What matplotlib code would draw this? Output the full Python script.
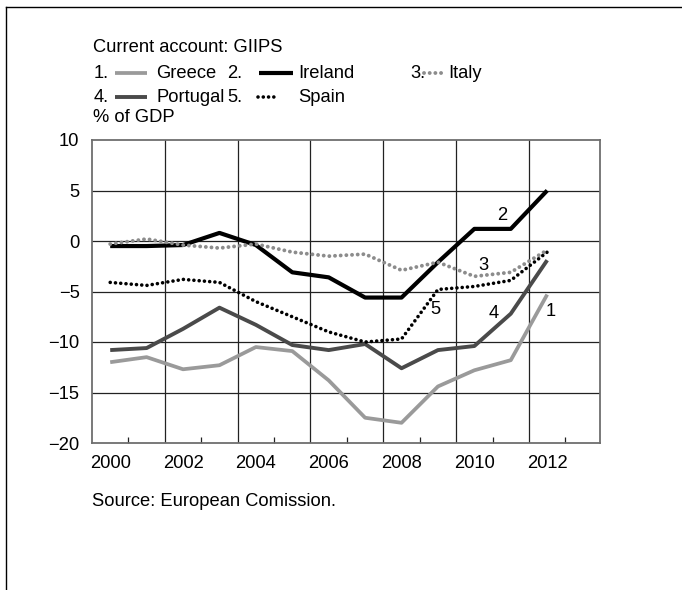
import numpy as np
import matplotlib.pyplot as plt
from matplotlib.lines import Line2D

plt.rcParams['font.family'] = ['Liberation Sans', 'DejaVu Sans']
plt.rcParams['font.size'] = 13.2

# current account balance, % of GDP
years = list(range(2000, 2013))
greece = [-12.0, -11.5, -12.7, -12.3, -10.5, -10.9, -13.8, -17.5, -18.0, -14.4, -12.8, -11.8, -5.3]
ireland = [-0.5, -0.5, -0.4, 0.8, -0.4, -3.1, -3.6, -5.6, -5.6, -2.1, 1.2, 1.2, 5.0]
italy = [-0.3, 0.2, -0.4, -0.7, -0.3, -1.1, -1.5, -1.3, -2.9, -2.1, -3.5, -3.1, -0.9]
portugal = [-10.8, -10.6, -8.7, -6.6, -8.3, -10.3, -10.8, -10.2, -12.6, -10.8, -10.4, -7.2, -1.9]
spain = [-4.1, -4.4, -3.8, -4.1, -6.0, -7.5, -9.0, -10.0, -9.7, -4.8, -4.5, -3.9, -1.1]

W, H = 682, 590
fig = plt.figure(figsize=(W / 100, H / 100), dpi=100)
ax = fig.add_axes([92 / W, 1 - 443 / H, 508 / W, 303 / H])

dot = (0, (0.01, 1.45))
styles = {
    'greece': dict(color='#9a9a9a', lw=2.7, solid_capstyle='butt'),
    'ireland': dict(color='black', lw=3.0, solid_capstyle='butt'),
    'italy': dict(color='#8c8c8c', lw=2.8, ls=dot, dash_capstyle='round'),
    'portugal': dict(color='#4a4a4a', lw=2.8, solid_capstyle='butt'),
    'spain': dict(color='black', lw=2.6, ls=dot, dash_capstyle='round'),
}

# gridlines
for v in np.arange(-15, 10, 5):
    ax.axhline(v, color='#222222', lw=0.9, zorder=1)
for v in np.arange(2001.5, 2012, 2):
    ax.axvline(v, color='#222222', lw=0.9, zorder=1)

ax.plot(years, greece, zorder=3, **styles['greece'])
ax.plot(years, portugal, zorder=3, **styles['portugal'])
ax.plot(years, ireland, zorder=3, **styles['ireland'])
ax.plot(years, spain, zorder=4, **styles['spain'])
ax.plot(years, italy, zorder=5, **styles['italy'])

# series numbers next to the lines
ax.text(2010.77, 2.5, '2', ha='center', va='center')
ax.text(2010.25, -2.4, '3', ha='center', va='center')
ax.text(2008.93, -6.8, '5', ha='center', va='center')
ax.text(2010.52, -7.2, '4', ha='center', va='center')
ax.text(2012.1, -7.0, '1', ha='center', va='center')

ax.set_xlim(1999.5, 2013.45)
ax.set_ylim(-20, 10)
ax.set_yticks(np.arange(-20, 11, 5))
ax.set_xticks(np.arange(2000, 2013, 2))
ax.set_xticks(np.arange(2000.5, 2013, 2), minor=True)
ax.tick_params(axis='y', length=0, pad=9)
ax.tick_params(axis='x', which='major', length=0, pad=9)
ax.tick_params(axis='x', which='minor', direction='in', length=4, width=0.9, color='#222222')
for s in ax.spines.values():
    s.set_color('#6e6e6e')
    s.set_linewidth(1.3)

# header and legend
def fx(px):
    return px / W

def fy(py):
    return 1 - py / H

fig.text(fx(93), fy(47), 'Current account: GIIPS', va='center')
fig.text(fx(93), fy(118), '% of GDP', va='center')
fig.text(fx(92), fy(502), 'Source: European Comission.', va='center')

legend = [
    ('1.', 94, 115, 147, 156, 73, 'Greece', 'greece'),
    ('2.', 227, 259, 293, 298, 73, 'Ireland', 'ireland'),
    ('3.', 410, 424, 444, 448, 73, 'Italy', 'italy'),
    ('4.', 94, 115, 147, 156, 97, 'Portugal', 'portugal'),
    ('5.', 227, 258, 277, 298, 97, 'Spain', 'spain'),
]
for num, xn, x0, x1, xt, yy, name, key in legend:
    fig.text(fx(xn), fy(yy), num, va='center')
    fig.add_artist(Line2D([fx(x0), fx(x1)], [fy(yy), fy(yy)], transform=fig.transFigure, **styles[key]))
    fig.text(fx(xt), fy(yy), name, va='center')

# page border
fig.add_artist(Line2D([fx(6), fx(6)], [0, fy(7)], color='black', lw=1, transform=fig.transFigure))
fig.add_artist(Line2D([fx(6), 1], [fy(7), fy(7)], color='black', lw=1, transform=fig.transFigure))

fig.savefig('out.png', dpi=100)
